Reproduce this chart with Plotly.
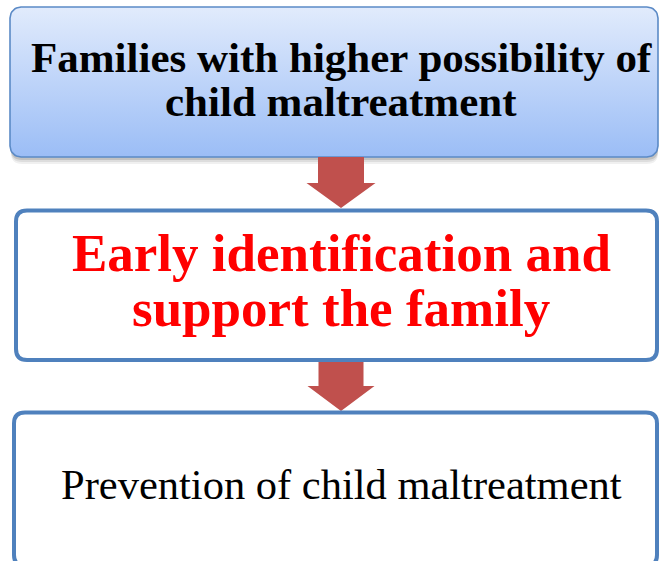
import numpy as np
import plotly.graph_objects as go

# ---- content ----
top_lines = ["Families with higher possibility of", "child maltreatment"]
mid_lines = ["Early identification and", "support the family"]
bot_lines = ["Prevention of child maltreatment"]

W, H = 660, 561
BLUE = "#4f81bd"
ARROW = "#c0504d"
FONT = "Liberation Serif, Times New Roman, serif"


def rrect_path(x0, y0, x1, y1, r):
    return (f"M{x0+r},{y0} L{x1-r},{y0} Q{x1},{y0} {x1},{y0+r} "
            f"L{x1},{y1-r} Q{x1},{y1} {x1-r},{y1} L{x0+r},{y1} "
            f"Q{x0},{y1} {x0},{y1-r} L{x0},{y0+r} Q{x0},{y0} {x0+r},{y0} Z")


def rrect_pts(x0, y0, x1, y1, r, n=12):
    xs, ys = [], []
    corners = [(x1 - r, y0 + r, -np.pi / 2, 0), (x1 - r, y1 - r, 0, np.pi / 2),
               (x0 + r, y1 - r, np.pi / 2, np.pi), (x0 + r, y0 + r, np.pi, 1.5 * np.pi)]
    for cx, cy, a0, a1 in corners:
        t = np.linspace(a0, a1, n)
        xs += list(cx + r * np.cos(t))
        ys += list(cy + r * np.sin(t))
    xs.append(xs[0]); ys.append(ys[0])
    return xs, ys


def arrow_path(cx, ytop, ybase, ytip, shaft_w, head_w):
    sw, hw = shaft_w / 2, head_w / 2
    return (f"M{cx-sw},{ytop} L{cx+sw},{ytop} L{cx+sw},{ybase} L{cx+hw},{ybase} "
            f"L{cx},{ytip} L{cx-hw},{ybase} L{cx-sw},{ybase} Z")


fig = go.Figure()
shapes = []

# shadow of top box
for off, op in [(7, 0.06), (5, 0.08), (3, 0.12)]:
    shapes.append(dict(type="path", path=rrect_path(11, 10 + off - 2, 658, 157 + off, 11),
                       fillcolor=f"rgba(0,0,0,{op})", line=dict(width=0), layer="below"))

# top gradient box (light at top, darker at bottom)
tx, ty = rrect_pts(10, 7, 658, 157, 11)
fig.add_trace(go.Scatter(x=tx, y=ty, mode="lines", fill="toself",
                         line=dict(color="#5b8ac6", width=1.6),
                         fillgradient=dict(type="vertical",
                                           colorscale=[[0, "#9bbdf6"], [1, "#e1ebfc"]]),
                         hoverinfo="skip", showlegend=False))

# arrows
shapes.append(dict(type="path", path=arrow_path(341, 157, 183, 208, 46, 69),
                   fillcolor=ARROW, line=dict(width=0)))
shapes.append(dict(type="path", path=arrow_path(341, 360, 386, 411, 45, 67),
                   fillcolor=ARROW, line=dict(width=0)))

# middle and bottom boxes
shapes.append(dict(type="path", path=rrect_path(16, 210.5, 657, 360, 11),
                   fillcolor="rgba(255,255,255,0)", line=dict(color=BLUE, width=4)))
shapes.append(dict(type="path", path=rrect_path(14, 412.5, 657, 566, 11),
                   fillcolor="rgba(255,255,255,0)", line=dict(color=BLUE, width=4)))

ann = []
for txt, y in zip(top_lines, [57, 101]):
    ann.append(dict(x=341, y=y, text=f"<b>{txt}</b>", showarrow=False,
                    font=dict(family=FONT, size=43, color="black"), yanchor="middle"))
for txt, y in zip(mid_lines, [253, 308]):
    ann.append(dict(x=341, y=y, text=f"<b>{txt}</b>", showarrow=False,
                    font=dict(family=FONT, size=53, color="#ff0000"), yanchor="middle"))
for txt, y in zip(bot_lines, [484]):
    ann.append(dict(x=341, y=y, text=txt, showarrow=False,
                    font=dict(family=FONT, size=42.5, color="black"), yanchor="middle"))

fig.update_layout(
    width=W, height=H, margin=dict(l=0, r=0, t=0, b=0),
    paper_bgcolor="white", plot_bgcolor="white",
    xaxis=dict(range=[0, W], visible=False, fixedrange=True),
    yaxis=dict(range=[H, 0], visible=False, fixedrange=True),
    shapes=shapes, annotations=ann, showlegend=False,
)
fig.write_html("out.html", config={"displayModeBar": False},
               post_script="document.body.style.margin='0';document.body.style.overflow='hidden';")
